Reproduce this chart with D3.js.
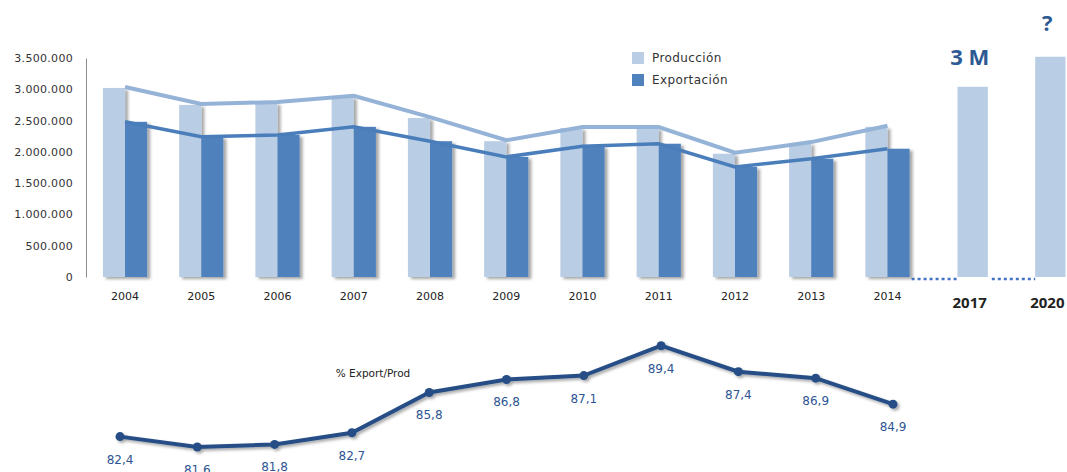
<!DOCTYPE html>
<meta charset="utf-8">

<style>
body { margin: 0; background: #fff; }
.axis text { font: 11px "DejaVu Sans"; fill: #333; letter-spacing: 0.3px; }
.axis path { stroke: #8c8c8c; }
.year { font: 11px "DejaVu Sans"; fill: #222; }
.legend text { font: 12px "DejaVu Sans"; fill: #333; letter-spacing: 0.4px; }
.pct { font: 12px "DejaVu Sans"; fill: #2e5593; }
</style>

<body>
<div id="chart"></div>
<script src="https://d3js.org/d3.v7.min.js"></script>
<script>
  // data
  var years = ["2004","2005","2006","2007","2008","2009","2010","2011","2012","2013","2014"];
  var produccion  = [3020000, 2750000, 2780000, 2880000, 2540000, 2170000, 2380000, 2380000, 1970000, 2140000, 2400000];
  var exportacion = [2480000, 2240000, 2270000, 2400000, 2170000, 1920000, 2090000, 2130000, 1760000, 1890000, 2050000];
  var pctExport = [82.4, 81.6, 81.8, 82.7, 85.8, 86.8, 87.1, 89.4, 87.4, 86.9, 84.9];
  var pctLabels = ["82,4","81,6","81,8","82,7","85,8","86,8","87,1","89,4","87,4","86,9","84,9"];
  var projYears  = ["2017", "2020"];
  var projValues = [3040000, 3520000];
  var projLabels = ["3 M", "?"];
  var yTicks = [0, 500000, 1000000, 1500000, 2000000, 2500000, 3000000, 3500000];

  var width = 1067, height = 472;

  var svg = d3.select("#chart")
    .append("svg")
    .attr("width", width)
    .attr("height", height);

  var defs = svg.append("defs");
  defs.append("filter").attr("id", "barShadow")
    .attr("x", "-20%").attr("y", "-5%").attr("width", "150%").attr("height", "115%")
    .append("feDropShadow")
    .attr("dx", 3).attr("dy", 2).attr("stdDeviation", 1.5)
    .attr("flood-color", "#000").attr("flood-opacity", 0.35);
  defs.append("filter").attr("id", "lineShadow")
    .attr("x", "-5%").attr("y", "-30%").attr("width", "110%").attr("height", "160%")
    .append("feDropShadow")
    .attr("dx", 2).attr("dy", 2).attr("stdDeviation", 1.5)
    .attr("flood-color", "#000").attr("flood-opacity", 0.35);

  var y = d3.scaleLinear().domain([0, 3500000]).range([277, 58]);

  var x = d3.scaleBand().domain(years)
    .range([86.9, 925.6])
    .paddingInner(0.42)
    .paddingOuter(0.21);

  var xSub = d3.scaleBand().domain(["prod", "exp"]).range([0, x.bandwidth()]);

  var xProj = d3.scaleBand().domain(projYears)
    .range([933.8, 1089.2])
    .paddingInner(0.61)
    .paddingOuter(0.305);

  var locale = d3.formatLocale({decimal: ",", thousands: ".", grouping: [3], currency: ["", ""]});

  // y axis
  svg.append("g")
    .attr("class", "axis")
    .attr("transform", "translate(86,0)")
    .call(d3.axisLeft(y)
      .tickValues(yTicks)
      .tickSize(0)
      .tickPadding(13)
      .tickFormat(locale.format(",")))
    .selectAll(".tick line").remove();

  // bars
  var groups = svg.append("g").selectAll("g")
    .data(years)
    .enter()
    .append("g")
    .attr("transform", function(d) { return "translate(" + x(d) + ",0)"; });

  groups.append("rect")
    .attr("x", xSub("prod"))
    .attr("width", xSub.bandwidth())
    .attr("y", function(d, i) { return y(produccion[i]); })
    .attr("height", function(d, i) { return y(0) - y(produccion[i]); })
    .attr("fill", "#b9cde5")
    .attr("filter", "url(#barShadow)");

  groups.append("rect")
    .attr("x", xSub("exp"))
    .attr("width", xSub.bandwidth())
    .attr("y", function(d, i) { return y(exportacion[i]); })
    .attr("height", function(d, i) { return y(0) - y(exportacion[i]); })
    .attr("fill", "#4f81bd")
    .attr("filter", "url(#barShadow)");

  // trend lines through the bars
  var center = function(d) { return x(d) + x.bandwidth() / 2; };

  svg.append("path")
    .datum(years)
    .attr("fill", "none")
    .attr("stroke", "#95b3d7")
    .attr("stroke-width", 4)
    .attr("d", d3.line()
      .x(function(d) { return center(d); })
      .y(function(d, i) { return y(produccion[i]) - 1; }));

  svg.append("path")
    .datum(years)
    .attr("fill", "none")
    .attr("stroke", "#4a7ebb")
    .attr("stroke-width", 3.5)
    .attr("d", d3.line()
      .x(function(d) { return center(d); })
      .y(function(d, i) { return y(exportacion[i]); }));

  // year labels
  svg.append("g").selectAll("text")
    .data(years)
    .enter()
    .append("text")
    .attr("class", "year")
    .attr("x", function(d) { return center(d); })
    .attr("y", 300)
    .attr("text-anchor", "middle")
    .text(function(d) { return d; });

  // legend
  var legend = svg.append("g").attr("class", "legend");
  var legendItems = [["Producción", "#b9cde5"], ["Exportación", "#4f81bd"]];
  legendItems.forEach(function(item, i) {
    legend.append("rect")
      .attr("x", 632).attr("y", 52 + i * 22)
      .attr("width", 12).attr("height", 12)
      .attr("fill", item[1]);
    legend.append("text")
      .attr("x", 652).attr("y", 62 + i * 22)
      .text(item[0]);
  });

  // projection bars
  svg.append("g").selectAll("rect")
    .data(projYears)
    .enter()
    .append("rect")
    .attr("x", function(d) { return xProj(d); })
    .attr("width", xProj.bandwidth())
    .attr("y", function(d, i) { return y(projValues[i]); })
    .attr("height", function(d, i) { return y(0) - y(projValues[i]); })
    .attr("fill", "#b9cde5");

  svg.append("g").selectAll("text")
    .data(projYears)
    .enter()
    .append("text")
    .attr("x", function(d) { return xProj(d) + xProj.bandwidth() / 2 - 3; })
    .attr("y", function(d, i) { return y(projValues[i]) - (i ? 26 : 22); })
    .attr("text-anchor", "middle")
    .attr("font-family", "Open Sans")
    .attr("font-weight", "bold")
    .attr("font-size", "22px")
    .attr("fill", "#2e5a93")
    .text(function(d, i) { return projLabels[i]; });

  svg.append("g").selectAll("text")
    .data(projYears)
    .enter()
    .append("text")
    .attr("x", function(d) { return xProj(d) + xProj.bandwidth() / 2 - 3; })
    .attr("y", 308)
    .attr("text-anchor", "middle")
    .attr("font-family", "Open Sans")
    .attr("font-weight", "bold")
    .attr("font-size", "15px")
    .attr("fill", "#222")
    .text(function(d) { return d; });

  // dotted connectors
  var dotted = [
    [x("2014") + x.bandwidth() + 2, xProj("2017")],
    [xProj("2017") + xProj.bandwidth() + 4, xProj("2020")]
  ];
  svg.append("g").selectAll("line")
    .data(dotted)
    .enter()
    .append("line")
    .attr("x1", function(d) { return d[0]; })
    .attr("x2", function(d) { return d[1]; })
    .attr("y1", y(0) + 2)
    .attr("y2", y(0) + 2)
    .attr("stroke", "#4472c4")
    .attr("stroke-width", 2.5)
    .attr("stroke-dasharray", "3,3");

  // % export / prod line
  var xp = d3.scalePoint().domain(years).range([120, 893]);
  var yp = d3.scaleLinear().domain([81.6, 89.4]).range([447, 345.7]);

  svg.append("text")
    .attr("x", 373)
    .attr("y", 377)
    .attr("text-anchor", "middle")
    .attr("font-family", "DejaVu Sans")
    .attr("font-size", "10.5px")
    .attr("fill", "#222")
    .text("% Export/Prod");

  var pctG = svg.append("g").attr("filter", "url(#lineShadow)");

  pctG.append("path")
    .datum(years)
    .attr("fill", "none")
    .attr("stroke", "#254e85")
    .attr("stroke-width", 4)
    .attr("d", d3.line()
      .x(function(d) { return xp(d); })
      .y(function(d, i) { return yp(pctExport[i]); }));

  pctG.selectAll("circle")
    .data(years)
    .enter()
    .append("circle")
    .attr("cx", function(d) { return xp(d); })
    .attr("cy", function(d, i) { return yp(pctExport[i]); })
    .attr("r", 4.5)
    .attr("fill", "#254e85");

  svg.append("g").selectAll("text")
    .data(years)
    .enter()
    .append("text")
    .attr("class", "pct")
    .attr("x", function(d) { return xp(d); })
    .attr("y", function(d, i) { return yp(pctExport[i]) + 27; })
    .attr("text-anchor", "middle")
    .text(function(d, i) { return pctLabels[i]; });
</script>
</body>
